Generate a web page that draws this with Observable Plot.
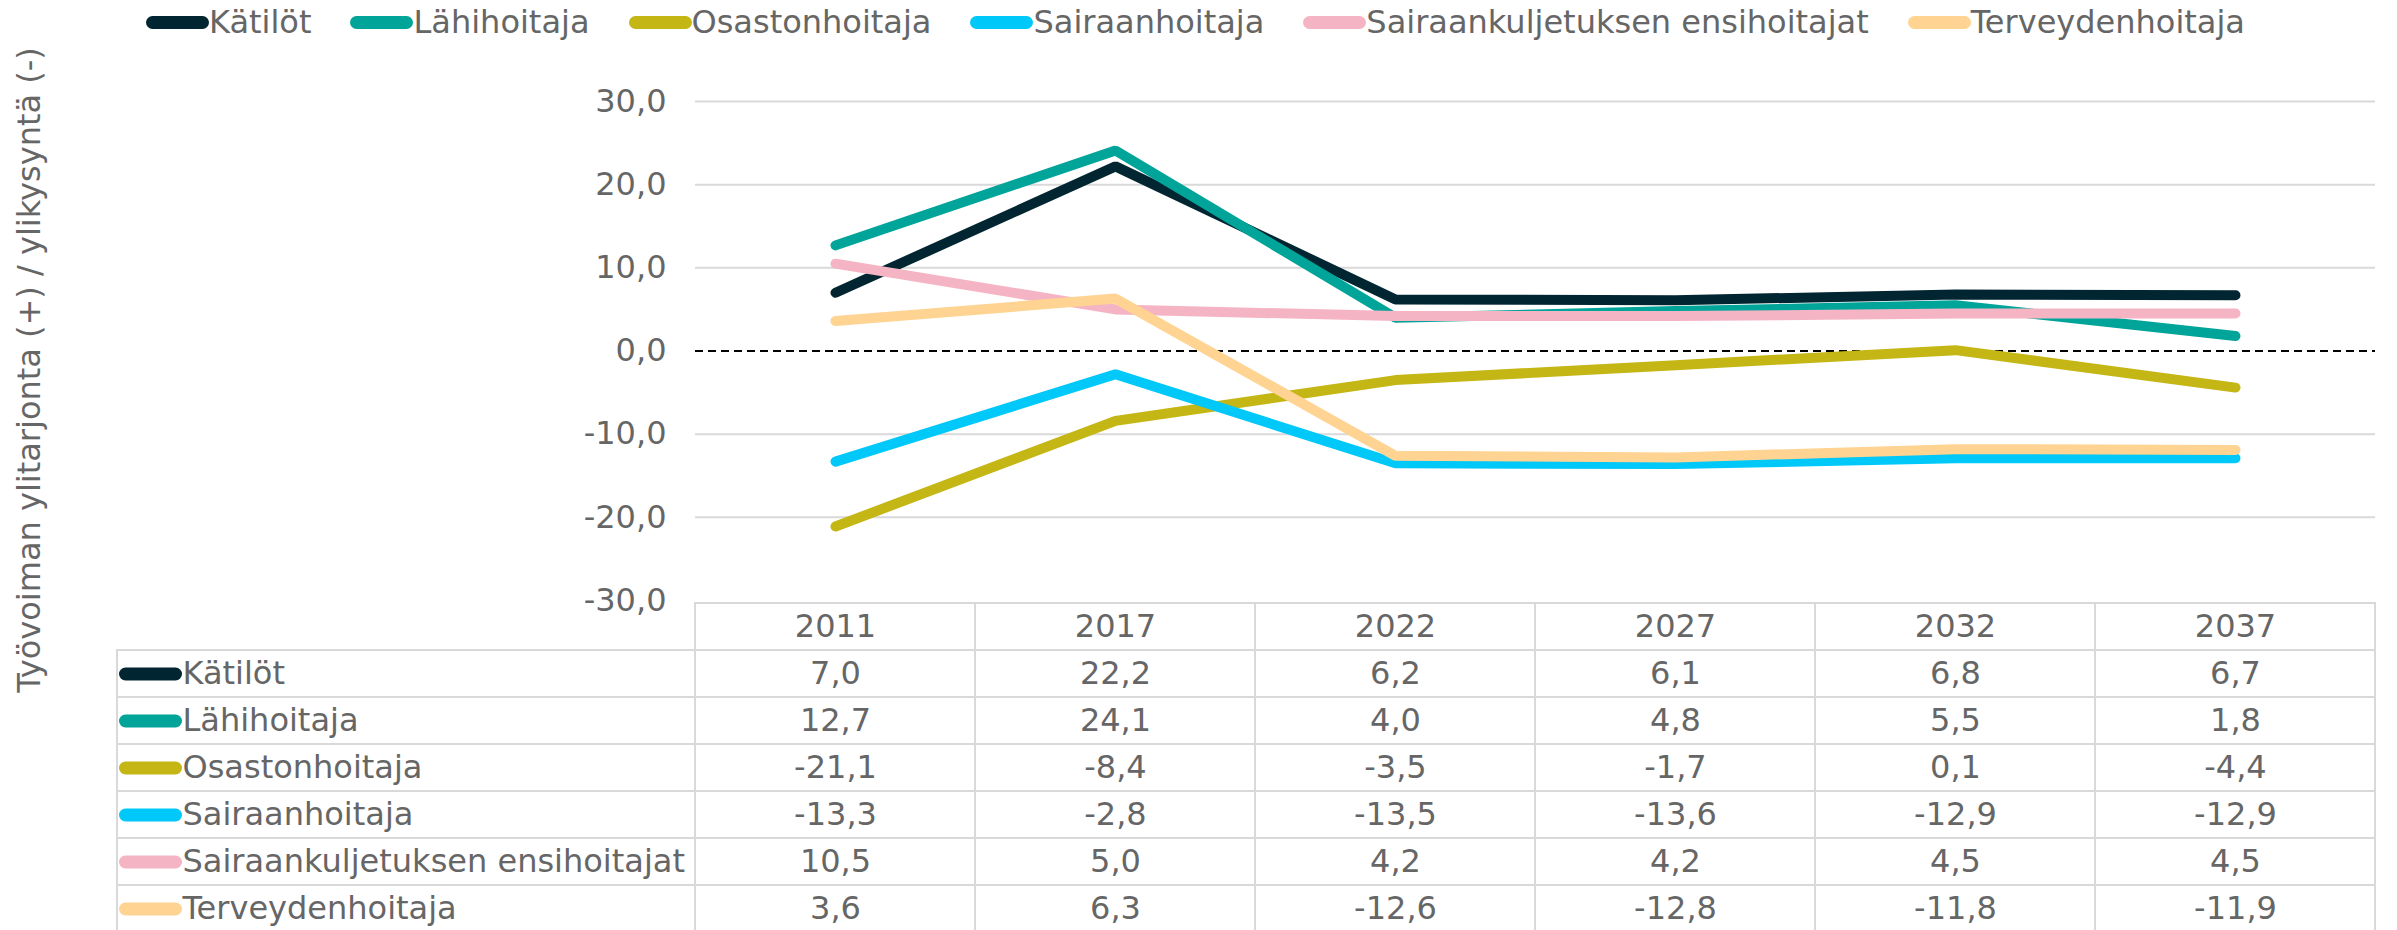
<!DOCTYPE html>
<html>
<head>
<meta charset="utf-8">
<script src="https://cdn.jsdelivr.net/npm/d3@7"></script>
<script src="https://cdn.jsdelivr.net/npm/@observablehq/plot@0.6"></script>
<style>
  html, body { margin: 0; padding: 0; background: #fff; }
  body { width: 2397px; height: 930px; overflow: hidden; position: relative; font-family: "DejaVu Sans", Verdana, sans-serif; color: #666; }
  #legend { position: absolute; left: 146px; top: 1px; height: 42px; display: flex; align-items: center; gap: 39px; font-size: 32px; white-space: nowrap; z-index: 3; }
  .item { display: flex; align-items: center; }
  .sw { display: inline-block; width: 63px; height: 13px; border-radius: 6.5px; }
  #ytitle { position: absolute; left: 29px; top: 370px; transform: translate(-50%, -50%) rotate(-90deg); font-size: 32px; white-space: nowrap; line-height: 1; z-index: 3; }
  #chart { position: absolute; left: 0; top: 40px; z-index: 1; }
  #table { position: absolute; left: 0; top: 599px; z-index: 2; }
  #chart svg { overflow: visible; }
  svg text { font-family: "DejaVu Sans", Verdana, sans-serif; font-size: 32px; }
</style>
</head>
<body>
<div id="legend"></div>
<div id="chart"></div>
<div id="table"></div>
<div id="ytitle">Työvoiman ylitarjonta (+) / ylikysyntä (-)</div>
<script>
// ---- data ----
const years = ["2011", "2017", "2022", "2027", "2032", "2037"];
const series = ["Kätilöt", "Lähihoitaja", "Osastonhoitaja", "Sairaanhoitaja", "Sairaankuljetuksen ensihoitajat", "Terveydenhoitaja"];
const colors = ["#012631", "#00a499", "#c4b614", "#00c8f9", "#f5b4c4", "#ffd391"];
const katilot = [7.0, 22.2, 6.2, 6.1, 6.8, 6.7];
const lahihoitaja = [12.7, 24.1, 4.0, 4.8, 5.5, 1.8];
const osastonhoitaja = [-21.1, -8.4, -3.5, -1.7, 0.1, -4.4];
const sairaanhoitaja = [-13.3, -2.8, -13.5, -13.6, -12.9, -12.9];
const ensihoitajat = [10.5, 5.0, 4.2, 4.2, 4.5, 4.5];
const terveydenhoitaja = [3.6, 6.3, -12.6, -12.8, -11.8, -11.9];
const yTicks = [-30, -20, -10, 0, 10, 20, 30];

const valueLists = [katilot, lahihoitaja, osastonhoitaja, sairaanhoitaja, ensihoitajat, terveydenhoitaja];
const data = series.flatMap((s, i) => years.map((y, j) => ({series: s, year: y, value: valueLists[i][j]})));
const fmt = v => v.toFixed(1).replace(".", ",");

// ---- legend ----
const legend = document.getElementById("legend");
series.forEach((s, i) => {
  const it = document.createElement("div");
  it.className = "item";
  const sw = document.createElement("span");
  sw.className = "sw";
  sw.style.background = colors[i];
  const tx = document.createElement("span");
  tx.textContent = s;
  it.append(sw, tx);
  legend.append(it);
});

const baseStyle = {fontFamily: "DejaVu Sans", fontSize: "32px", color: "#666", background: "transparent"};

// ---- line chart ----
const chart = Plot.plot({
  width: 2397, height: 561,
  marginTop: 61, marginBottom: 1, marginLeft: 695, marginRight: 22,
  style: baseStyle,
  x: {type: "point", domain: years, padding: 0.5, axis: null},
  y: {domain: [-30, 30], ticks: yTicks, tickFormat: fmt, tickSize: 0, tickPadding: 29, label: null},
  color: {domain: series, range: colors},
  marks: [
    Plot.ruleY(yTicks.filter(t => t !== 0 && t !== -30), {stroke: "#d9d9d9", strokeWidth: 2}),
    Plot.ruleY([0], {stroke: "#000", strokeWidth: 2, strokeDasharray: "8,5"}),
    Plot.line(data, {x: "year", y: "value", z: "series", stroke: "series", strokeWidth: 10,
      strokeLinecap: "round", strokeLinejoin: "miter"})
  ]
});
document.getElementById("chart").append(chart);

// ---- data table ----
const pill = {draw(ctx) { ctx.moveTo(-25, 0); ctx.lineTo(25, 0); }};
const table = Plot.plot({
  width: 2397, height: 335,
  marginTop: 1, marginBottom: 0, marginLeft: 117, marginRight: 22,
  style: baseStyle,
  x: {type: "band", domain: years, range: [695, 2375], padding: 0, axis: null},
  y: {type: "band", domain: ["header", ...series], padding: 0, axis: null},
  color: {domain: series, range: colors},
  marks: [
    Plot.cell(series, {y: d => d, fill: "white", stroke: "#d9d9d9", strokeWidth: 2}),
    Plot.cell(data, {x: "year", y: "series", fill: "white", stroke: "#d9d9d9", strokeWidth: 2}),
    Plot.cell(years, {x: d => d, y: () => "header", fill: "white", stroke: "#d9d9d9", strokeWidth: 2}),
    Plot.text(years, {x: d => d, y: () => "header", text: d => d, fill: "#666"}),
    Plot.text(data, {x: "year", y: "series", text: d => fmt(d.value), fill: "#666"}),
    Plot.text(series, {y: d => d, text: d => d, frameAnchor: "left", textAnchor: "start", dx: 65, fill: "#666"}),
    Plot.dot(series, {y: d => d, frameAnchor: "left", dx: 33, symbol: pill, stroke: d => d, fill: "none",
      strokeWidth: 13, strokeLinecap: "round"})
  ]
});
document.getElementById("table").append(table);
</script>
</body>
</html>
